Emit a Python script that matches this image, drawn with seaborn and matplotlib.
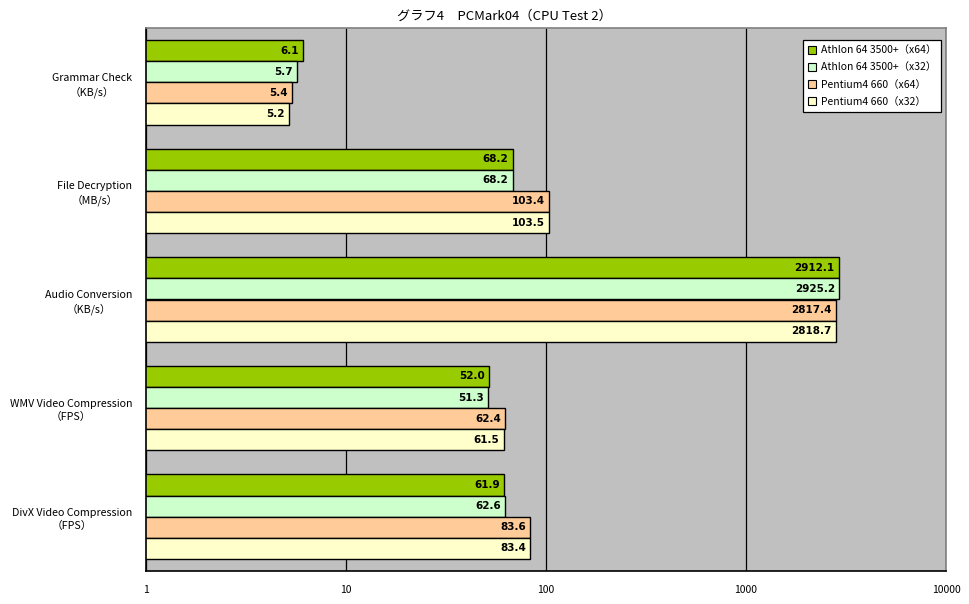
import numpy as np
import pandas as pd
import seaborn as sns
from matplotlib import pyplot as plt
from matplotlib.patches import Patch

categories = ['Grammar Check\n（KB/s）', 'File Decryption\n（MB/s）', 'Audio Conversion\n（KB/s）',
			  'WMV Video Compression\n（FPS）', 'DivX Video Compression\n（FPS）']
series = ['Athlon 64 3500+（x64）', 'Athlon 64 3500+（x32）', 'Pentium4 660（x64）', 'Pentium4 660（x32）']
athlon_x64 = [6.1, 68.2, 2912.1, 52.0, 61.9]
athlon_x32 = [5.7, 68.2, 2925.2, 51.3, 62.6]
p4_x64 = [5.4, 103.4, 2817.4, 62.4, 83.6]
p4_x32 = [5.2, 103.5, 2818.7, 61.5, 83.4]
x_ticks = [1, 10, 100, 1000, 10000]
x_tick_labels = ['1', '10', '100', '1000', '10000']

COLORS = ['#99CC00', '#CCFFCC', '#FFCC99', '#FFFFCC']

rows = []
for s, vals in zip(series, [athlon_x64, athlon_x32, p4_x64, p4_x32]):
	for c, v in zip(categories, vals):
		rows.append({'category': c, 'series': s, 'value': v})
df = pd.DataFrame(rows)

sns.set_style('white')
plt.rcParams['font.family'] = ['Noto Sans CJK JP', 'DejaVu Sans']
plt.rcParams['font.size'] = 7.5
plt.rcParams['text.color'] = 'black'
plt.rcParams['xtick.color'] = 'black'
plt.rcParams['ytick.color'] = 'black'

fig = plt.figure(figsize=(9.7, 6.04), dpi=100)
ax = fig.add_axes([146/970, 1-571/604, 800/970, 543/604])
ax.set_facecolor('#C0C0C0')

sns.barplot(ax=ax, data=df, x='value', y='category', hue='series',
			hue_order=series, order=categories, palette=COLORS,
			orient='h', width=0.78, edgecolor='black', linewidth=1.0,
			saturation=1, legend=False)
ax.set_xscale('log')
ax.set_xlim(1, 10000)
ax.set_ylim(4.5, -0.5)
ax.set_xticks(x_ticks)
ax.set_xticklabels(x_tick_labels)
ax.xaxis.set_minor_locator(plt.NullLocator())
ax.tick_params(axis='x', length=0, pad=10, labelsize=7.5)
ax.tick_params(axis='y', length=0, pad=10, labelsize=7.7)
for lbl in ax.get_yticklabels():
	lbl.set_multialignment('center')
	lbl.set_linespacing(1.35)
ax.set_yticks(np.arange(0.5, 4.5, 1), minor=True)
ax.tick_params(axis='y', which='minor', direction='in', length=3, color='black', width=0.8)
ax.set_xlabel('')
ax.set_ylabel('')
ax.grid(axis='x', color='black', linewidth=0.9)
ax.set_axisbelow(True)
for sp in ax.spines.values():
	sp.set_color('black')
	sp.set_linewidth(1.2)
ax.spines['top'].set_color('#808080')
ax.spines['right'].set_color('#808080')

for cont in ax.containers:
	texts = ax.bar_label(cont, fmt='%.1f', padding=-3, fontweight='bold', fontsize=7.5,
						 family=['DejaVu Sans'], color='black')
	for t in texts:
		t.set_horizontalalignment('right')

handles = [Patch(facecolor=c, edgecolor='black', linewidth=0.8) for c in COLORS]
leg = ax.legend(handles, series, loc='upper right', bbox_to_anchor=(0.994, 0.978),
				frameon=True, fancybox=False, edgecolor='black', framealpha=1,
				fontsize=7.5, handlelength=0.8, handleheight=0.8, handletextpad=0.4,
				borderpad=0.5, labelspacing=0.7, borderaxespad=0)
leg.get_frame().set_linewidth(0.9)

fig.text(504/970, 1-16/604, 'グラフ4　PCMark04（CPU Test 2）', ha='center', va='center', fontsize=9.5)

fig.savefig('out.png', dpi=100)
